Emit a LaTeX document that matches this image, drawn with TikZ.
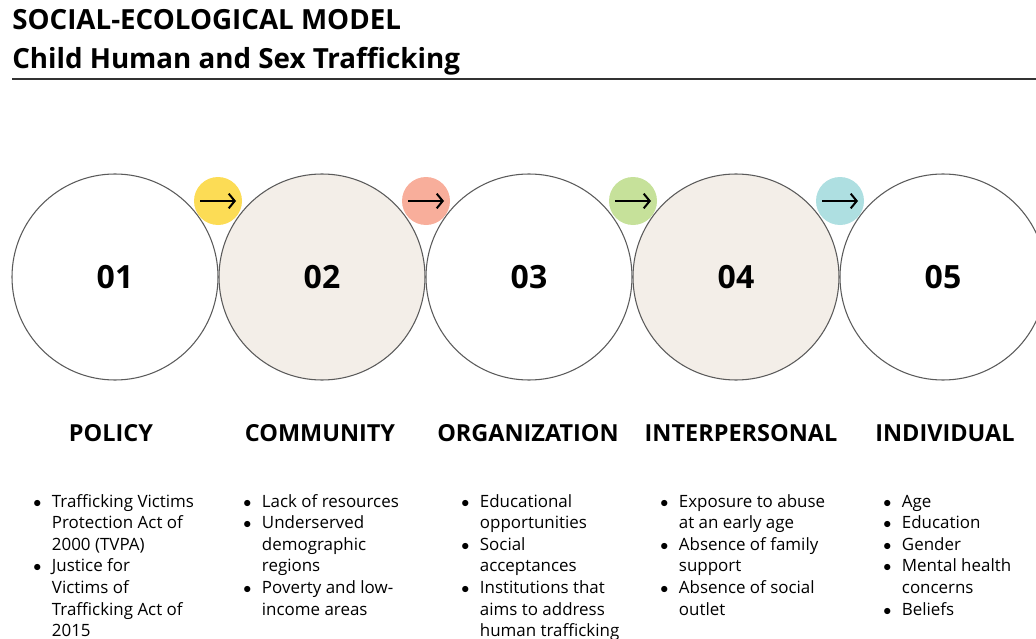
\documentclass[tikz,border=0pt]{standalone}
\usepackage{fontspec}
\setmainfont{Open Sans}
\usetikzlibrary{arrows.meta}

\definecolor{ringgray}{HTML}{5A5A5A}
\definecolor{sand}{HTML}{F3EEE8}
\definecolor{sunyellow}{HTML}{FCDC55}
\definecolor{salmon}{HTML}{F8AE9B}
\definecolor{leafgreen}{HTML}{C6E19A}
\definecolor{aqua}{HTML}{AEDFE1}

\newcommand{\itm}{\makebox[14pt][l]{$\bullet$}}
\newcommand{\cnt}{\hspace*{14pt}}

\tikzset{
  ring/.style={circle, draw=ringgray, line width=0.8pt, minimum size=154.5pt,
    inner sep=0pt, font=\fontsize{24}{24}\selectfont\bfseries},
  dot/.style={circle, minimum size=36pt, inner sep=0pt},
  nextarrow/.style={line width=1.5pt, -{Straight Barb[length=4.5pt, width=11pt]}},
  level/.style={anchor=base, inner sep=0pt, font=\fontsize{17.6}{17.6}\selectfont\bfseries},
  itemlist/.style={anchor=base west, inner sep=0pt,
    font=\fontsize{12.7}{16.2}\selectfont},
  heading/.style={anchor=base west, inner sep=0pt, font=\fontsize{20.8}{20.8}\selectfont\bfseries}
}

\begin{document}
\begin{tikzpicture}[x=0.75pt, y=-0.75pt]
  \useasboundingbox (0,0) rectangle (1036,639);
  \clip (0,0) rectangle (1036,639);

  % Title
  \node[heading] (title) at (12,30) {SOCIAL-ECOLOGICAL MODEL};
  \node[heading] (subtitle) at (12,68) {Child Human and Sex Trafficking};
  \coordinate (ruleL) at (12,79);
  \coordinate (ruleR) at (1036,79);
  \draw[line width=0.8pt, black!80] (ruleL) -- (ruleR);

  % Levels
  \node[ring] (c1) at (115,277) {01};
  \node[ring, fill=sand] (c2) at (322,277) {02};
  \node[ring] (c3) at (529,277) {03};
  \node[ring, fill=sand] (c4) at (736,277) {04};
  \node[ring] (c5) at (943,277) {05};

  % Arrows between levels
  \node[dot, fill=sunyellow] (a1) at (218,201) {};
  \node[dot, fill=salmon]    (a2) at (426,201) {};
  \node[dot, fill=leafgreen] (a3) at (633,201) {};
  \node[dot, fill=aqua]      (a4) at (840,201) {};
  \draw[nextarrow] ([xshift=-13.5pt]a1.center) -- ([xshift=13.5pt]a1.center);
  \draw[nextarrow] ([xshift=-13.5pt]a2.center) -- ([xshift=13.5pt]a2.center);
  \draw[nextarrow] ([xshift=-13.5pt]a3.center) -- ([xshift=13.5pt]a3.center);
  \draw[nextarrow] ([xshift=-13.5pt]a4.center) -- ([xshift=13.5pt]a4.center);

  \node[level] (l1) at (111,441) {POLICY};
  \node[level] (l2) at (320,441) {COMMUNITY};
  \node[level] (l3) at (528,441) {ORGANIZATION};
  \node[level] (l4) at (741,441) {INTERPERSONAL};
  \node[level] (l5) at (945,441) {INDIVIDUAL};

  % Factors
  \node[itemlist] (f1) at (33,507) {\begin{tabular}[t]{@{}l@{}}
    \itm Trafficking Victims\\ \cnt Protection Act of\\ \cnt 2000 (TVPA)\\
    \itm Justice for\\ \cnt Victims of\\ \cnt Trafficking Act of\\ \cnt 2015
  \end{tabular}};
  \node[itemlist] (f2) at (243,507) {\begin{tabular}[t]{@{}l@{}}
    \itm Lack of resources\\ \itm Underserved\\ \cnt demographic\\ \cnt regions\\
    \itm Poverty and low-\\ \cnt income areas
  \end{tabular}};
  \node[itemlist] (f3) at (461,507) {\begin{tabular}[t]{@{}l@{}}
    \itm Educational\\ \cnt opportunities\\ \itm Social\\ \cnt acceptances\\
    \itm Institutions that\\ \cnt aims to address\\ \cnt human trafficking
  \end{tabular}};
  \node[itemlist] (f4) at (660,507) {\begin{tabular}[t]{@{}l@{}}
    \itm Exposure to abuse\\ \cnt at an early age\\ \itm Absence of family\\ \cnt support\\
    \itm Absence of social\\ \cnt outlet
  \end{tabular}};
  \node[itemlist] (f5) at (883,507) {\begin{tabular}[t]{@{}l@{}}
    \itm Age\\ \itm Education\\ \itm Gender\\ \itm Mental health\\ \cnt concerns\\
    \itm Beliefs
  \end{tabular}};
\end{tikzpicture}
\end{document}
